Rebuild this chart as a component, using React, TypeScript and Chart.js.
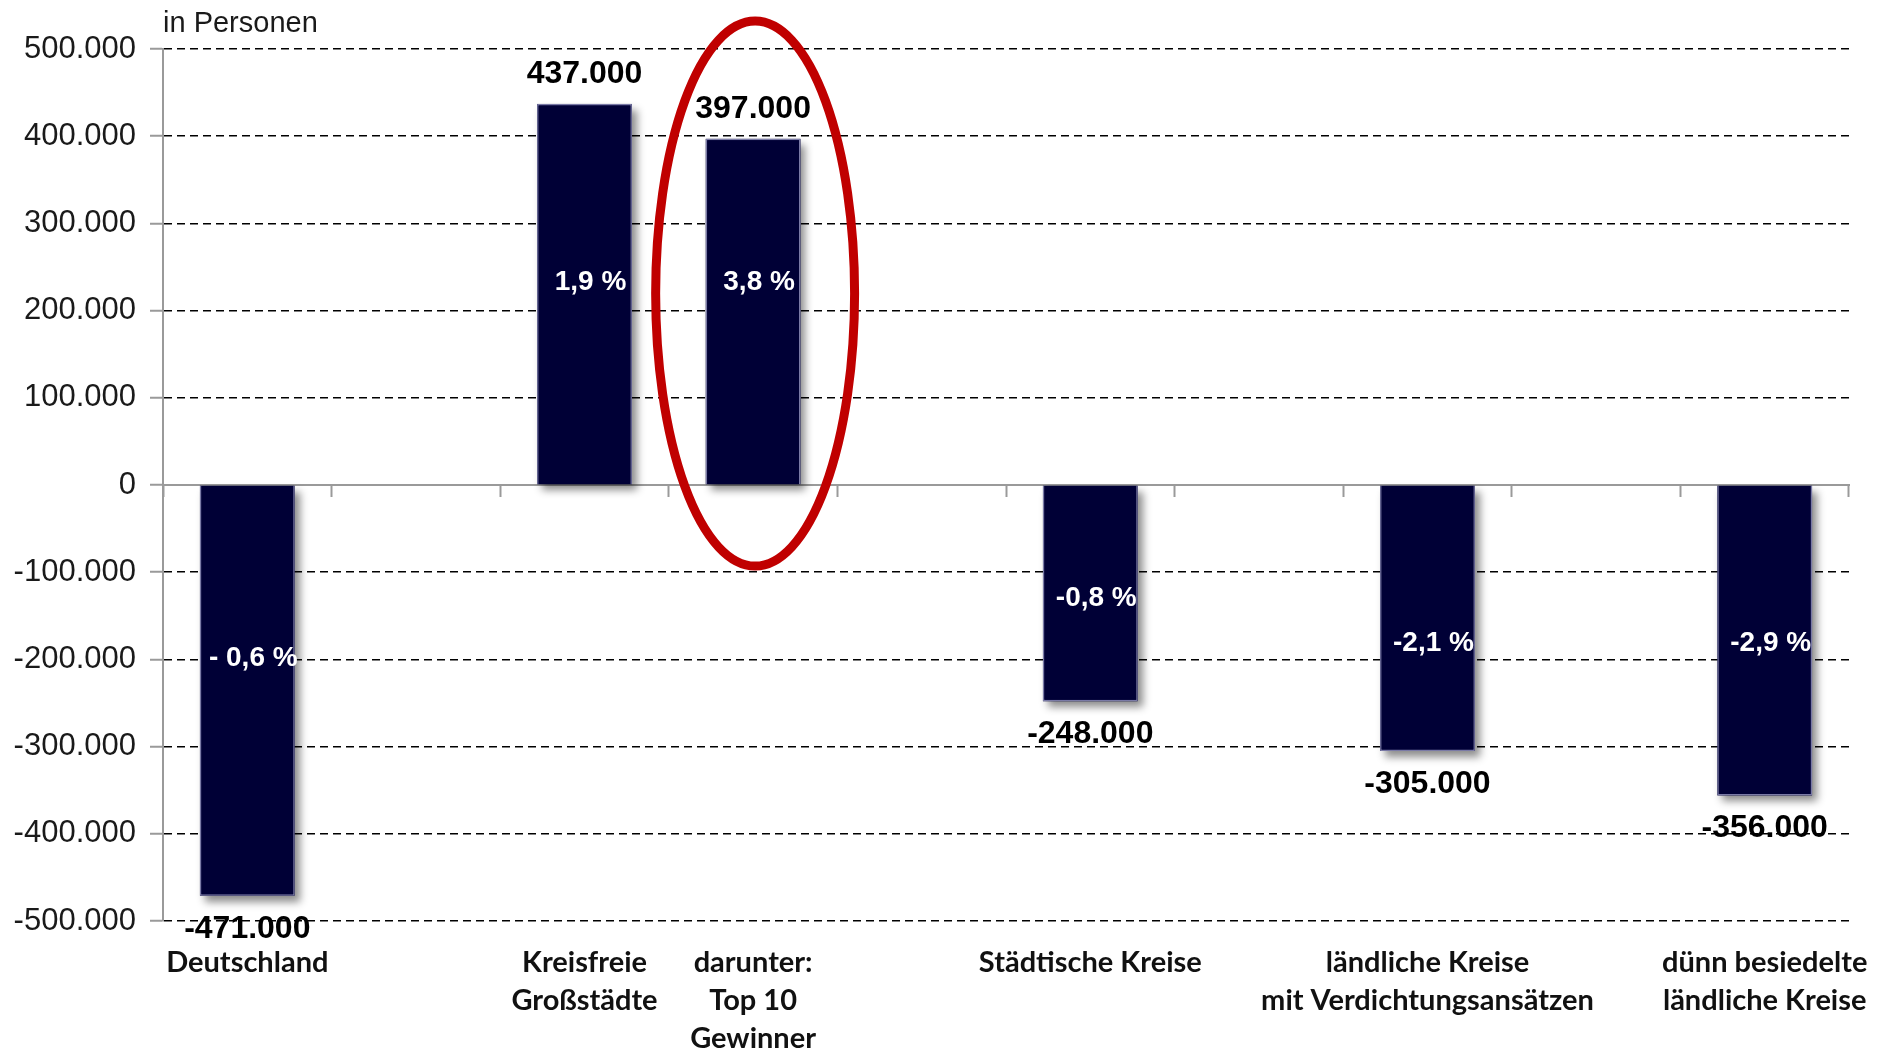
import React, { useEffect, useRef } from 'react';
import { Chart, registerables } from 'chart.js';

Chart.register(...registerables);

// ---- data ----
const categories: (string | string[])[] = [
  'Deutschland',
  '',
  ['Kreisfreie', 'Großstädte'],
  ['darunter:', 'Top 10', 'Gewinner'],
  '',
  'Städtische Kreise',
  '',
  ['ländliche Kreise', 'mit Verdichtungsansätzen'],
  '',
  ['dünn besiedelte', 'ländliche Kreise'],
];
const values: (number | null)[] = [-471000, null, 437000, 397000, null, -248000, null, -305000, null, -356000];
const pctLabels: string[] = ['- 0,6 %', '', '1,9 %', '3,8 %', '', '-0,8 %', '', '-2,1 %', '', '-2,9 %'];
const yMin = -500000;
const yMax = 500000;
const yStep = 100000;
const unitTitle = 'in Personen';

// ---- layout constants (data units, converted through the scales) ----
const pctAnchor: (number | null)[] = [-199000, null, 233000, 233000, null, -130000, null, -182000, null, -182000];
const highlightIndex = 3;
const highlightTop = 532000;
const highlightBottom = -93000;

const BAR_COLOR = '#000036';
const SANS = '"Liberation Sans", Arial, sans-serif';

const fmt = (v: number) =>
  (v < 0 ? '-' : '') + Math.abs(v).toString().replace(/\B(?=(\d{3})+(?!\d))/g, '.');

const shadowPlugin = {
  id: 'barShadow',
  beforeDatasetsDraw(chart: any) {
    const ctx = chart.ctx;
    const meta = chart.getDatasetMeta(0);
    meta.data.forEach((el: any, i: number) => {
      if (values[i] == null) return;
      const { x, y, base, width } = el.getProps(['x', 'y', 'base', 'width'], true);
      ctx.save();
      ctx.shadowColor = 'rgba(0,0,0,0.45)';
      ctx.shadowBlur = 8;
      ctx.shadowOffsetX = 5;
      ctx.shadowOffsetY = 6;
      ctx.fillStyle = BAR_COLOR;
      ctx.fillRect(x - width / 2, Math.min(y, base), width, Math.abs(base - y));
      ctx.restore();
    });
  },
};

const labelPlugin = {
  id: 'barLabels',
  afterDatasetsDraw(chart: any) {
    const ctx = chart.ctx;
    const meta = chart.getDatasetMeta(0);
    const yScale = chart.scales.y;
    ctx.save();
    ctx.textAlign = 'center';
    ctx.textBaseline = 'middle';
    meta.data.forEach((el: any, i: number) => {
      const v = values[i];
      if (v == null) return;
      const { x, y } = el.getProps(['x', 'y'], true);
      ctx.fillStyle = '#000';
      ctx.font = `bold 32px ${SANS}`;
      ctx.fillText(fmt(v), x, v >= 0 ? y - 30 : y + 33);
      const a = pctAnchor[i];
      if (a != null && pctLabels[i]) {
        ctx.fillStyle = '#fff';
        ctx.font = `bold 28px ${SANS}`;
        ctx.fillText(pctLabels[i], x + 6, yScale.getPixelForValue(a));
      }
    });
    ctx.restore();
  },
};

const overlayPlugin = {
  id: 'overlay',
  afterDraw(chart: any) {
    const ctx = chart.ctx;
    const xs = chart.scales.x;
    const ys = chart.scales.y;
    const area = chart.chartArea;
    // unit title
    ctx.save();
    ctx.fillStyle = '#1a1a1a';
    ctx.font = `29px ${SANS}`;
    ctx.textAlign = 'left';
    ctx.textBaseline = 'middle';
    ctx.fillText(unitTitle, area.left, 24);
    // highlight ellipse
    const catW = (area.right - area.left) / categories.length;
    const cx = xs.getPixelForValue(highlightIndex) + catW * 0.012;
    const top = ys.getPixelForValue(highlightTop);
    const bot = ys.getPixelForValue(highlightBottom);
    ctx.beginPath();
    ctx.ellipse(cx, (top + bot) / 2, catW * 0.59, (bot - top) / 2, 0, 0, Math.PI * 2);
    ctx.strokeStyle = '#c00000';
    ctx.lineWidth = 9;
    ctx.stroke();
    ctx.restore();
  },
};

export default function App() {
  const ref = useRef<HTMLCanvasElement | null>(null);
  useEffect(() => {
    if (!ref.current) return;
    const chart = new Chart(ref.current, {
      type: 'bar',
      data: {
        labels: categories as any,
        datasets: [
          {
            data: values as any,
            backgroundColor: BAR_COLOR,
            borderColor: '#7a7aa6',
            borderWidth: 1.5,
            categoryPercentage: 1,
            barPercentage: 0.562,
          },
        ],
      },
      options: {
        animation: false,
        responsive: false,
        events: [],
        layout: { padding: { top: 49, right: 29, left: 0, bottom: 0 } },
        plugins: { legend: { display: false }, tooltip: { enabled: false }, title: { display: false } },
        scales: {
          x: {
            type: 'category',
            position: 'bottom',
            offset: true,
            grid: { display: false, drawTicks: false, offset: true },
            border: { display: false },
            ticks: {
              autoSkip: false,
              maxRotation: 0,
              minRotation: 0,
              padding: 23,
              color: '#111',
              font: { family: 'Lato, "Noto Sans", sans-serif', weight: 'bold', size: 29, lineHeight: '38px' },
            },
            afterFit(s: any) {
              s.height = 128;
              s.paddingLeft = 0;
              s.paddingRight = 0;
            },
          },
          x0: {
            type: 'category',
            position: { y: 0 } as any,
            offset: true,
            grid: {
              display: true,
              drawOnChartArea: false,
              drawTicks: true,
              tickLength: 11,
              tickColor: '#9a9a9a',
              tickWidth: 2,
              offset: true,
            },
            border: { display: true, color: '#9a9a9a', width: 2 },
            ticks: { display: false },
            afterFit(s: any) {
              s.paddingLeft = 0;
              s.paddingRight = 0;
            },
          },
          y: {
            min: yMin,
            max: yMax,
            ticks: {
              stepSize: yStep,
              callback: (v: any) => fmt(Number(v)),
              color: '#1a1a1a',
              padding: 14,
              font: { family: SANS, size: 31 },
            },
            grid: {
              color: (c: any) => (c.tick && c.tick.value === 0 ? 'rgba(0,0,0,0)' : '#000'),
              lineWidth: 1.5,
              drawTicks: true,
              tickLength: 13,
              tickColor: '#9a9a9a',
              tickWidth: 2,
              tickBorderDash: [],
            },
            border: { display: true, color: '#9a9a9a', width: 2, dash: [8, 5] },
            afterFit(s: any) {
              s.width = 163;
              s.paddingTop = 0;
              s.paddingBottom = 0;
            },
          },
        },
      } as any,
      plugins: [shadowPlugin, labelPlugin, overlayPlugin],
    });
    return () => chart.destroy();
  }, []);
  return (
    <div style={{ position: 'fixed', left: 0, top: 0, width: 1878, height: 1049, background: '#fff' }}>
      <canvas ref={ref} width={1878} height={1049} style={{ display: 'block' }} />
    </div>
  );
}
